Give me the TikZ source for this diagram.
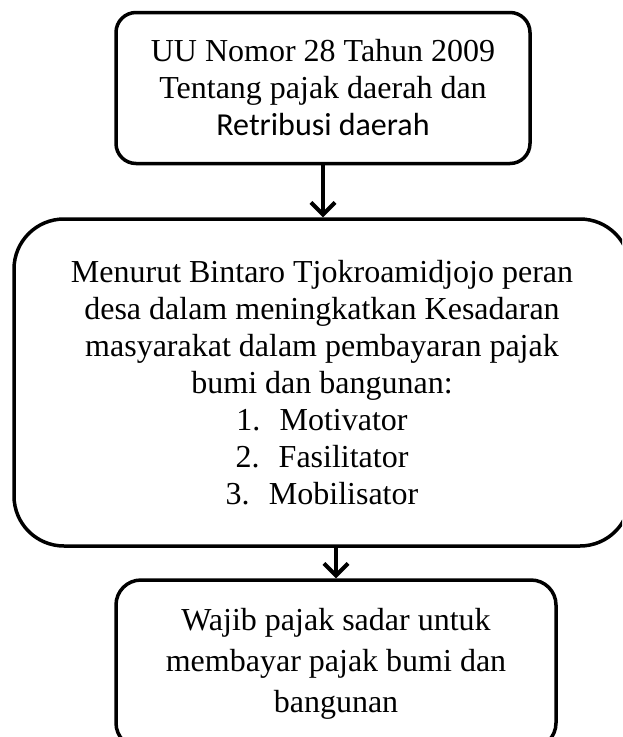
\documentclass[tikz,border=0pt]{standalone}
\usepackage{fontspec}
\setmainfont{Liberation Serif}
\newfontfamily\calibrifont{Carlito}
\usetikzlibrary{arrows.meta}

\tikzset{
  flowbox/.style={draw=black, line width=3.5pt, align=center, inner sep=0pt,
    font=\fontsize{32}{37}\selectfont},
  flowarrow/.style={line width=4pt,
    -{Straight Barb[length=12pt,width=24pt]}}
}

\begin{document}
\begin{tikzpicture}[x=1pt,y=-1pt]
    \useasboundingbox (0,0) rectangle (622,737);
    \clip (0,0) rectangle (622,737);
    % the law
    \node[flowbox, rounded corners=20pt, minimum width=414pt, minimum height=151pt] (law) at (323,88)
        {UU Nomor 28 Tahun 2009\\Tentang pajak daerah dan\\{\calibrifont Retribusi daerah}};
    % role of the village
    \node[flowbox, rounded corners=50pt, minimum width=616pt, minimum height=327pt] (role) at (322,382.5)
        {Menurut Bintaro Tjokroamidjojo peran\\desa dalam meningkatkan Kesadaran\\masyarakat dalam pembayaran pajak\\bumi dan bangunan:\\
         1.\hspace{0.6em}Motivator\\2.\hspace{0.6em}Fasilitator\\3.\hspace{0.6em}Mobilisator};
    % result
    \node[flowbox, rounded corners=25pt, minimum width=440pt, minimum height=168pt,
          font=\fontsize{32}{41}\selectfont] (result) at (336,664)
        {Wajib pajak sadar untuk\\membayar pajak bumi dan\\bangunan};
    \draw[flowarrow] (law.south) -- (law.south |- role.north);
    \draw[flowarrow] (result.north |- role.south) -- (result.north);
\end{tikzpicture}
\end{document}
